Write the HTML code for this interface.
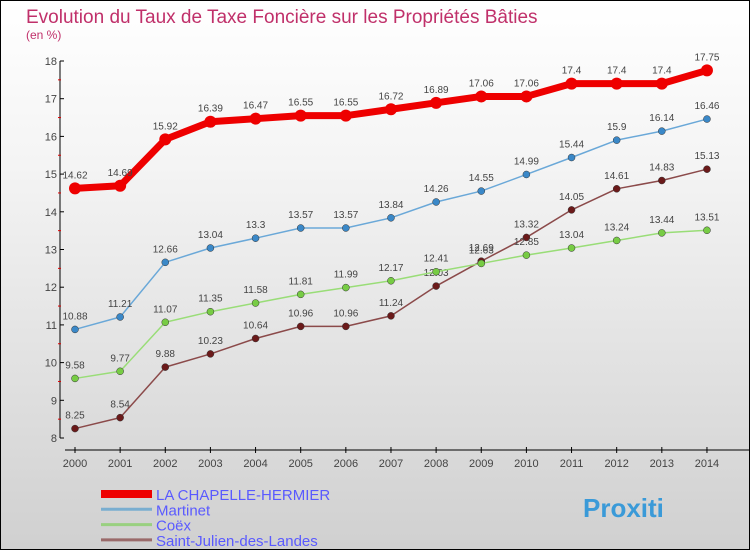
<!DOCTYPE html>
<html><head><meta charset="utf-8"><style>
body{margin:0}
#c{width:748px;height:548px;border:1px solid #000;background:linear-gradient(#fff,#f4f4f4 30%,#d0d0d0);position:relative;font-family:"Liberation Sans",sans-serif;overflow:hidden}
</style></head><body>
<div id="c">
<svg id="s" width="748" height="548" xmlns="http://www.w3.org/2000/svg"></svg>
</div>
<script>
const years=[2000,2001,2002,2003,2004,2005,2006,2007,2008,2009,2010,2011,2012,2013,2014];
const chapelle=[14.62,14.69,15.92,16.39,16.47,16.55,16.55,16.72,16.89,17.06,17.06,17.4,17.4,17.4,17.75];
const martinet=[10.88,11.21,12.66,13.04,13.3,13.57,13.57,13.84,14.26,14.55,14.99,15.44,15.9,16.14,16.46];
const coex=[9.58,9.77,11.07,11.35,11.58,11.81,11.99,12.17,12.41,12.63,12.85,13.04,13.24,13.44,13.51];
const stjulien=[8.25,8.54,9.88,10.23,10.64,10.96,10.96,11.24,12.03,12.69,13.32,14.05,14.61,14.83,15.13];
const yTicks=[8,9,10,11,12,13,14,15,16,17,18];
const seriesNames=["LA CHAPELLE-HERMIER","Martinet","Coëx","Saint-Julien-des-Landes"];
const NS="http://www.w3.org/2000/svg",s=document.getElementById('s');
const X=i=>74+i*45.14, Y=v=>60+(18-v)*37.7;
function el(t,a,p){const e=document.createElementNS(NS,t);for(const k in a)e.setAttribute(k,a[k]);(p||s).appendChild(e);return e;}
let t=el('text',{x:25,y:22,fill:'#c0306a','font-size':19});t.textContent="Evolution du Taux de Taxe Foncière sur les Propriétés Bâties";

t=el('text',{x:25,y:38,fill:'#c0306a','font-size':12});t.textContent="(en %)";

let a=el('line',{x1:59,y1:Y(18),x2:59,y2:Y(8),stroke:'#000'});

yTicks.forEach((v,i)=>{el('line',{x1:59,x2:63,y1:Y(v),y2:Y(v),stroke:'#000'});
 if(i<yTicks.length-1)el('line',{x1:57,x2:60,y1:Y(v+.5),y2:Y(v+.5),stroke:'#d00'});
 const l=el('text',{x:56,y:Y(v)+4,'text-anchor':'end','font-size':11,fill:'#444'});l.textContent=v;
 });
a=el('line',{x1:64,y1:449,x2:748,y2:449,stroke:'#000'});

years.forEach((y,i)=>{el('line',{x1:X(i),x2:X(i),y1:446,y2:452,stroke:'#000'});
 const l=el('text',{x:X(i),y:466,'text-anchor':'middle','font-size':11,fill:'#444'});l.textContent=y;
 });
function series(d,col,dot,w,r,name){const g=el('g',{});
 
 el('polyline',{points:d.map((v,i)=>X(i)+','+Y(v)).join(' '),fill:'none',stroke:col,'stroke-width':w,'stroke-linejoin':'round'},g);
 d.forEach((v,i)=>{const c=el('circle',{cx:X(i),cy:Y(v),r:r,fill:dot,stroke:w>3?'none':'#333','stroke-width':.5},g);
  
  const l=el('text',{x:X(i),y:Y(v)-10,'text-anchor':'middle','font-size':10,fill:'#444'},g);l.textContent=v;});}
series(stjulien,'#8b4a4a','#6b1a1a',1.5,3.5,'series-saint-julien');
series(coex,'#99dd77','#77cc44',1.5,3.5,'series-coex');
series(martinet,'#6aa8d8','#3a88c8',1.5,3.5,'series-martinet');
series(chapelle,'#ee0000','#ee0000',7,6,'series-la-chapelle-hermier');
const lc=['#ee0000','#7aaed0','#99d080','#9a6a6a'],lw=[8,3,3,3];
seriesNames.forEach((n,i)=>{const g=el('g',{});
 const yy=493+i*15.3;el('line',{x1:100,x2:151,y1:yy,y2:yy,stroke:lc[i],'stroke-width':lw[i]},g);
 const l=el('text',{x:155,y:yy+6,'font-size':15,fill:'#5a5aff'},g);l.textContent=n;});
t=el('text',{x:582,y:516,'font-size':26,'font-weight':'bold',fill:'#3a9ad8'});t.textContent="Proxiti";

</script>
</body></html>
